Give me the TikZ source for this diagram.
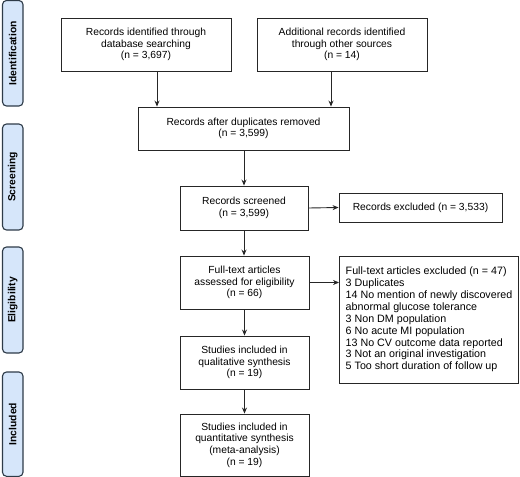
\documentclass[tikz,border=0pt]{standalone}
\usepackage{fontspec}
\setmainfont{Liberation Sans}
\usetikzlibrary{arrows.meta}
\definecolor{phasefill}{HTML}{D6E6FA}
\definecolor{phaseline}{HTML}{2E3B48}
\begin{document}
\begin{tikzpicture}[x=1pt,y=-1pt,
  box/.style={draw=black!85,line width=0.9pt,inner sep=0pt,align=center,
    font=\fontsize{10.3}{11.6}\selectfont},
  phase/.style={draw=phaseline,fill=phasefill,line width=1.1pt,rounded corners=4pt},
  phasetext/.style={rotate=90,font=\bfseries\fontsize{10.3}{12}\selectfont},
  arr/.style={-{Stealth[length=6pt,width=5pt]},line width=0.9pt,black!85}]
\useasboundingbox (0,0) rectangle (520,477);
% phases
\draw[phase] (2.5,0.5) rectangle (23,106) node[midway,phasetext] (pid) {Identification};
\draw[phase] (2.5,124) rectangle (23,230) node[midway,phasetext] (psc) {Screening};
\draw[phase] (2.5,247) rectangle (23,353) node[midway,phasetext] (pel) {Eligibility};
\draw[phase] (2.5,372) rectangle (23,476.3) node[midway,phasetext] (pin) {Included};
% boxes
\node[box,minimum width=170pt,minimum height=53pt] (b1) at (146,44.5) {Records identified through\\database searching\\(n = 3,697)};
\node[box,minimum width=170pt,minimum height=53pt] (b2) at (342,44.5) {Additional records identified\\through other sources\\(n = 14)};
\node[box,minimum width=211pt,minimum height=43pt] (b3) at (243.5,128.5) {Records after duplicates removed\\(n = 3,599)};
\node[box,minimum width=128pt,minimum height=44pt] (b4) at (244,208) {Records screened\\(n = 3,599)};
\node[box,minimum width=163pt,minimum height=29pt] (e1) at (420.5,207.5) {Records excluded (n = 3,533)};
\node[box,minimum width=129pt,minimum height=53pt] (b5) at (244.5,282.5) {Full-text articles\\assessed for eligibility\\(n = 66)};
\node[box,minimum width=179pt,minimum height=127pt,align=left,
  font=\fontsize{10.7}{11.9}\selectfont] (e2) at (429,319.5) {Full-text articles excluded (n = 47)\\3 Duplicates\\14 No mention of newly discovered\\abnormal glucose tolerance\\3 Non DM population\\6 No acute MI population\\13 No CV outcome data reported\\3 Not an original investigation\\5 Too short duration of follow up};
\node[box,minimum width=129pt,minimum height=53pt] (b6) at (244.5,362.5) {Studies included in\\qualitative synthesis\\(n = 19)};
\node[box,minimum width=129pt,minimum height=62pt] (b7) at (244.5,445) {Studies included in\\quantitative synthesis\\(meta-analysis)\\(n = 19)};
% arrows
\draw[arr] (b1.south -| 157,0) -- (b3.north -| 157,0);
\draw[arr] (b2.south -| 331,0) -- (b3.north -| 331,0);
\draw[arr] (b3.south -| b4.north) -- (b4.north);
\draw[arr] (b4.east) -- (e1.west);
\draw[arr] (b4.south) -- (b5.north -| b4.south);
\draw[arr] (b5.east) -- (e2.west |- b5.east);
\draw[arr] (b5.south) -- (b6.north);
\draw[arr] (b6.south) -- (b7.north);
\end{tikzpicture}
\end{document}
